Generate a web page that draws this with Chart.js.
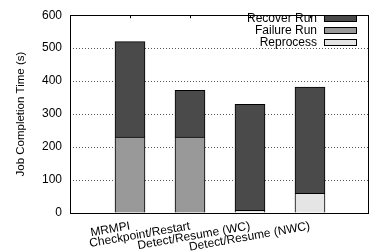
<!DOCTYPE html>
<html><head><meta charset="utf-8">
<script src="https://cdn.jsdelivr.net/npm/chart.js@4"></script>
<style>html,body{margin:0;padding:0;background:#fff}#wrap{width:369px;height:251px}</style>
</head><body><div id="wrap"><canvas id="c" width="369" height="251"></canvas></div>
<script>
const categories = ['MRMPI', 'Checkpoint/Restart', 'Detect/Resume (WC)', 'Detect/Resume (NWC)'];
const reprocess = [0, 0, 8, 60];
const failureRun = [230, 230, 0, 0];
const recoverRun = [290, 142, 322, 322];
const yTicks = [0, 100, 200, 300, 400, 500, 600];
const FONT = 'Liberation Sans, Arial, sans-serif';

function pts(arr){ return arr.map((v,i)=>({x:i, y:v})); }

const frame = {
  id:'frame',
  afterDraw(chart){
    const {ctx, chartArea:a} = chart;
    const xs = chart.scales.x;
    const items = [
      {label:'Recover Run', ds:2},
      {label:'Failure Run', ds:1},
      {label:'Reprocess', ds:0}
    ];
    ctx.save();
    ctx.fillStyle = '#fff';
    ctx.fillRect(240, 11, 122, 37);
    ctx.font = '12px ' + FONT;
    ctx.textAlign = 'right';
    ctx.textBaseline = 'alphabetic';
    items.forEach((it, k) => {
      const yb = 21.7 + k*12;
      const d = chart.data.datasets[it.ds];
      ctx.fillStyle = '#000';
      ctx.fillText(it.label, 317, yb);
      const by = Math.round(yb - 6.5) + 0.5;
      ctx.fillStyle = d.backgroundColor;
      ctx.fillRect(324.5, by, 32, 6);
      ctx.strokeStyle = '#000';
      ctx.lineWidth = 1;
      ctx.strokeRect(324.5, by, 32, 6);
    });
    ctx.strokeStyle = '#000';
    ctx.lineWidth = 1;
    ctx.strokeRect(Math.round(a.left)+0.5, Math.round(a.top)+0.5, Math.round(a.right-a.left), Math.round(a.bottom-a.top));
    ctx.beginPath();
    categories.forEach((c,i)=>{
      const x = Math.round(xs.getPixelForValue(i))+0.5;
      ctx.moveTo(x, a.top); ctx.lineTo(x, a.top+3);
    });
    ctx.stroke();
    ctx.restore();
  }
};

new Chart(document.getElementById('c'), {
  type:'bar',
  data:{
    datasets:[
      {label:'Reprocess', data:pts(reprocess), backgroundColor:'#e5e5e5', borderColor:'#000', borderWidth:1, barThickness:30},
      {label:'Failure Run', data:pts(failureRun), backgroundColor:'#999999', borderColor:'#000', borderWidth:1, barThickness:30},
      {label:'Recover Run', data:pts(recoverRun), backgroundColor:'#4a4a4a', borderColor:'#000', borderWidth:1, barThickness:30}
    ]
  },
  options:{
    responsive:false,
    animation:false,
    events:[],
    layout:{padding:{top:7, right:1, left:0, bottom:0}},
    plugins:{legend:{display:false}, tooltip:{enabled:false}},
    scales:{
      x:{
        type:'linear', stacked:true, min:-1, max:3.967, offset:false,
        afterBuildTicks(s){ s.ticks = categories.map((c,i)=>({value:i})); },
        afterFit(s){ s.height = 38; },
        grid:{display:false, drawTicks:false},
        border:{display:false},
        ticks:{
          autoSkip:false, minRotation:10, maxRotation:10, padding:6,
          color:'#000', font:{family:FONT, size:12},
          callback:(v)=> categories[v] !== undefined ? categories[v] : ''
        }
      },
      y:{
        stacked:true, min:0, max:600,
        afterBuildTicks(s){ s.ticks = yTicks.map(v=>({value:v})); },
        afterFit(s){ s.width = 70; },
        grid:{color:(c)=> (c.tick && (c.tick.value===0 || c.tick.value===600)) ? 'rgba(0,0,0,0)' : '#555', lineWidth:1, drawTicks:false},
        border:{display:false, dash:[1,2]},
        ticks:{color:'#000', font:{family:FONT, size:12}, padding:8},
        title:{display:true, text:'Job Completion Time (s)', color:'#000', font:{family:FONT, size:11.5}, padding:{top:14, bottom:0}}
      }
    }
  },
  plugins:[frame]
});
</script>
</body></html>
